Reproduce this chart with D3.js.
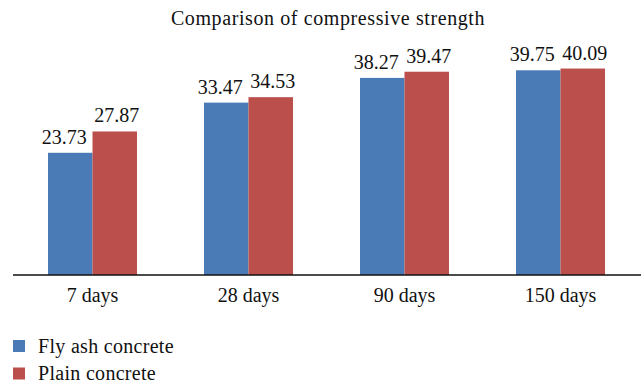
<!DOCTYPE html>
<html><head><meta charset="utf-8">
<script src="https://cdn.jsdelivr.net/npm/d3@7"></script>
<style>body{margin:0;background:#fff}text{font-family:"Liberation Serif","Times New Roman",serif;fill:#111}</style>
</head><body><svg id="c" width="641" height="387"></svg>
<script>
const categories = ["7 days", "28 days", "90 days", "150 days"];
const seriesNames = ["Fly ash concrete", "Plain concrete"];
const flyAsh = [23.73, 33.47, 38.27, 39.75];
const plain = [27.87, 34.53, 39.47, 40.09];
const colors = ["#4A7BB7", "#BA4F4C"];
const title = "Comparison of compressive strength";

const svg = d3.select("#c");
const x0 = d3.scaleBand().domain(categories).range([14.5, 638.5]).padding(0);
const groupW = 89;
const x1 = d3.scaleBand().domain(seriesNames).range([0, groupW]).padding(0);
const y = d3.scaleLinear().domain([0, 45]).range([275, 43.25]);
const series = [flyAsh, plain];
const labelShift = [-6, 2];

svg.append("text").attr("x", 328).attr("y", 25).attr("text-anchor", "middle")
  .style("font-size", "20px").style("letter-spacing", "0.6px").text(title);

const g = svg.append("g");
categories.forEach((c, i) => {
  const gx = x0(c) + (x0.bandwidth() - groupW) / 2;
  series.forEach((vals, s) => {
    const bx = gx + x1(seriesNames[s]);
    g.append("rect").attr("x", bx).attr("y", y(vals[i]))
      .attr("width", x1.bandwidth()).attr("height", y(0) - y(vals[i]))
      .attr("fill", colors[s]);
    g.append("text").attr("x", bx + x1.bandwidth() / 2 + labelShift[s]).attr("y", y(vals[i]) - 9)
      .attr("text-anchor", "middle").style("font-size", "20px").text(vals[i].toFixed(2));
  });
});

const axis = svg.append("g").attr("transform", "translate(0,275)")
  .call(d3.axisBottom(x0).tickSize(0).tickPadding(10));
axis.select(".domain").attr("d", "M13,0H641").attr("stroke", "#111").attr("stroke-width", 1.5);
axis.selectAll("text").style("font-size", "20px").attr("dy", "0.85em")
  .style("font-family", '"Liberation Serif","Times New Roman",serif').attr("fill", "#111");

const leg = svg.append("g");
seriesNames.forEach((n, i) => {
  const ly = 340 + i * 27.5;
  leg.append("rect").attr("x", 13).attr("y", ly).attr("width", 12).attr("height", 12).attr("fill", colors[i]);
  leg.append("text").attr("x", 38).attr("y", ly + 12.5).style("font-size", "20px")
    .style("letter-spacing", "0.3px").text(n);
});
</script></body></html>
